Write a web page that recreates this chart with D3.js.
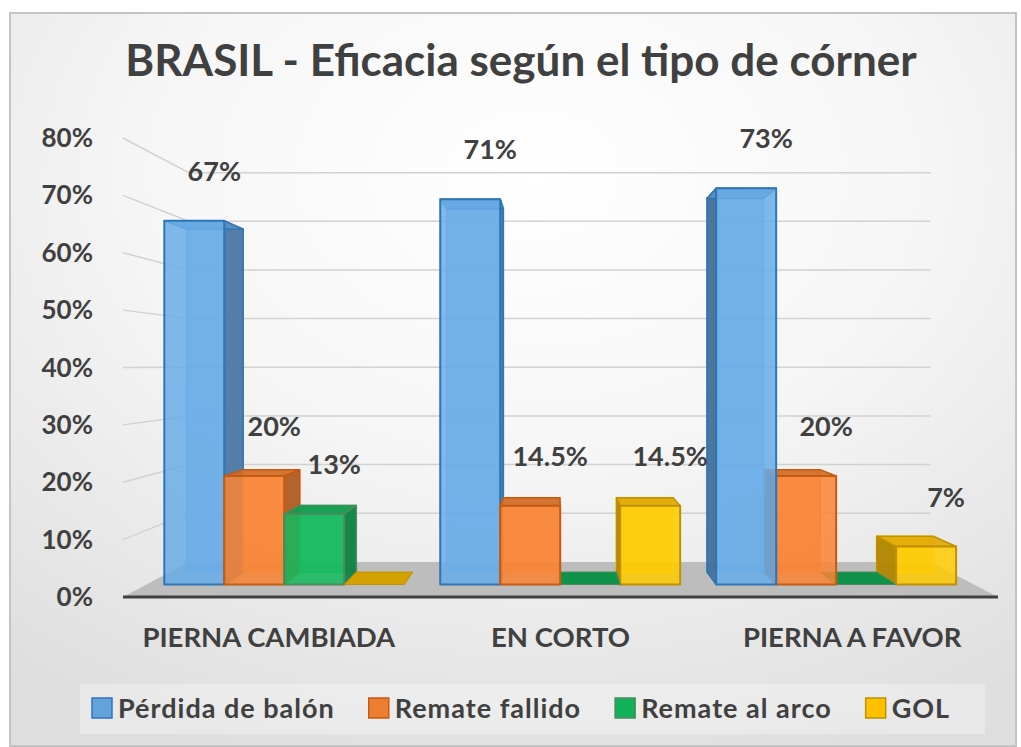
<!DOCTYPE html>
<html>
<head>
<meta charset="utf-8">
<script src="https://cdn.jsdelivr.net/npm/d3@7"></script>
<style>
  body { margin: 0; background: #fff; }
  svg { display: block; }
  text { font-family: Lato, "Open Sans", sans-serif; font-weight: 700; fill: #404040; }
</style>
</head>
<body>
<svg id="chart" width="1021" height="747"></svg>
<script>
// data
const categories = ["PIERNA CAMBIADA", "EN CORTO", "PIERNA A FAVOR"];
const seriesNames = ["Pérdida de balón", "Remate fallido", "Remate al arco", "GOL"];
const perdidaBalon = [0.67, 0.71, 0.73];
const remateFallido = [0.20, 0.145, 0.20];
const remateArco = [0.13, 0, 0];
const gol = [0, 0.145, 0.07];
const yTicks = [0, 0.1, 0.2, 0.3, 0.4, 0.5, 0.6, 0.7, 0.8];

const seriesValues = [perdidaBalon, remateFallido, remateArco, gol];
const colors = ["#64a2dc", "#ed7d31", "#12b058", "#ffc000"];
const edges = ["#2e75b6", "#c55a11", "#4a8a5c", "#bf9000"];

/* Set up */
/* ====== */
const svg = d3.select("#chart");
const fmt = (v) => `${+(v * 100).toFixed(1)}%`;

// simple perspective: x/y given on the front plane, z = depth 0..1
const VP = [555, 366];
const shrink = 0.152;
const k = (z) => 1 - shrink * z;
const proj = (x, y, z) => [VP[0] + (x - VP[0]) * k(z), VP[1] + (y - VP[1]) * k(z)];
const barZ = [0.355, 0.71];

const x0 = d3.scaleBand().domain(categories).range([123, 998]);
const x1 = d3.scaleBand().domain(seriesNames).range([0, x0.bandwidth()]).paddingOuter(0.3);
const y = d3.scaleLinear().domain([0, 0.8]).range([597, 138]);

// background
const defs = svg.append("defs");
const grad = defs.append("radialGradient").attr("id", "bg")
  .attr("cx", "52%").attr("cy", "22%").attr("r", "85%");
grad.append("stop").attr("offset", "0%").attr("stop-color", "#ffffff");
grad.append("stop").attr("offset", "45%").attr("stop-color", "#f6f6f6");
grad.append("stop").attr("offset", "100%").attr("stop-color", "#dedede");

svg.append("rect")
  .attr("x", 10).attr("y", 13).attr("width", 1006).attr("height", 733)
  .attr("fill", "url(#bg)").attr("stroke", "#c4c4c4").attr("stroke-width", 2);

// title
svg.append("text")
  .attr("x", 521).attr("y", 76)
  .attr("text-anchor", "middle")
  .attr("font-size", 44)
  .text("BRASIL - Eficacia según el tipo de córner");

/* Walls and floor */
/* =============== */
const line = d3.line();
const [xMin, xMax] = x0.range();

const grid = svg.append("g").attr("fill", "none").attr("stroke", "#d2d2d2").attr("stroke-width", 1.5);
yTicks.filter((t) => t > 0).forEach((t) => {
  grid.append("path").attr("d", line([proj(xMin, y(t), 0), proj(xMin, y(t), 1)]));
  grid.append("path").attr("d", line([proj(xMin, y(t), 1), proj(xMax, y(t), 1)]));
});

svg.append("path")
  .attr("d", line([proj(xMin, y(0), 0), proj(xMax, y(0), 0), proj(xMax, y(0), 1), proj(xMin, y(0), 1)]) + "Z")
  .attr("fill", "#bdbdbd");

svg.append("line")
  .attr("x1", xMin).attr("x2", xMax)
  .attr("y1", y(0)).attr("y2", y(0))
  .attr("stroke", "#404040").attr("stroke-width", 3);

// y axis labels
svg.append("g")
  .selectAll("text")
  .data(yTicks)
  .join("text")
  .attr("x", 93)
  .attr("y", (d) => y(d) + 9)
  .attr("text-anchor", "end")
  .attr("font-size", 26)
  .text((d) => d3.format(".0%")(d));

// category labels
svg.append("g")
  .selectAll("text")
  .data(categories)
  .join("text")
  .attr("x", (d) => x0(d) + x0.bandwidth() / 2)
  .attr("y", 647)
  .attr("text-anchor", "middle")
  .attr("font-size", 27.5)
  .text((d) => d);

/* Bars */
/* ==== */
const bars = [];
categories.forEach((c, ci) => {
  seriesNames.forEach((s, si) => {
    const xa = x0(c) + x1(s);
    const xb = xa + x1.bandwidth();
    bars.push({ ci, si, xa, xb, v: seriesValues[si][ci] });
  });
});
// far from the vanishing point first
bars.sort((a, b) => Math.abs((b.xa + b.xb) / 2 - VP[0]) - Math.abs((a.xa + a.xb) / 2 - VP[0]));

const poly = (pts) => line(pts) + "Z";
const barG = svg.append("g");

bars.forEach((b) => {
  const g = barG.append("g").attr("stroke-linejoin", "round");
  const col = d3.color(colors[b.si]);
  const edge = edges[b.si];
  const yb = y(0);
  const yt = y(b.v);
  const F = (x, yy) => proj(x, yy, barZ[0]);
  const B = (x, yy) => proj(x, yy, barZ[1]);

  if (b.v === 0) {
    g.append("path")
      .attr("d", poly([F(b.xa, yb), F(b.xb, yb), B(b.xb, yb), B(b.xa, yb)]))
      .attr("fill", col.darker(0.5)).attr("stroke", edge).attr("stroke-width", 1);
    return;
  }

  // back face, seen through the transparent front
  g.append("path")
    .attr("d", poly([B(b.xa, yt), B(b.xb, yt), B(b.xb, yb), B(b.xa, yb)]))
    .attr("fill", col).attr("fill-opacity", 0.55)
    .attr("stroke", col.brighter(0.4)).attr("stroke-width", 1.5);

  if (b.xb < VP[0]) {
    g.append("path")
      .attr("d", poly([F(b.xb, yt), B(b.xb, yt), B(b.xb, yb), F(b.xb, yb)]))
      .attr("fill", col.darker(0.9)).attr("fill-opacity", 0.9)
      .attr("stroke", edge).attr("stroke-width", 1.5);
  } else if (b.xa > VP[0]) {
    g.append("path")
      .attr("d", poly([F(b.xa, yt), B(b.xa, yt), B(b.xa, yb), F(b.xa, yb)]))
      .attr("fill", col.darker(1.1)).attr("fill-opacity", 0.9)
      .attr("stroke", edge).attr("stroke-width", 1.5);
  }

  g.append("path")
    .attr("d", poly([F(b.xa, yt), F(b.xb, yt), B(b.xb, yt), B(b.xa, yt)]))
    .attr("fill", col.darker(0.35)).attr("fill-opacity", 0.9)
    .attr("stroke", edge).attr("stroke-width", 1.5);

  g.append("path")
    .attr("d", poly([F(b.xa, yt), F(b.xb, yt), F(b.xb, yb), F(b.xa, yb)]))
    .attr("fill", col.brighter(0.15)).attr("fill-opacity", 0.85)
    .attr("stroke", edge).attr("stroke-width", 2);
});

// data labels
svg.append("g")
  .selectAll("text")
  .data(bars.filter((b) => b.v > 0))
  .join("text")
  .attr("x", (b) => proj((b.xa + b.xb) / 2, y(b.v), barZ[0])[0] + 20)
  .attr("y", (b) => proj((b.xa + b.xb) / 2, y(b.v), barZ[0])[1] - 40)
  .attr("text-anchor", "middle")
  .attr("font-size", 27)
  .text((b) => fmt(b.v));

/* Legend */
/* ====== */
svg.append("rect")
  .attr("x", 80).attr("y", 684).attr("width", 905).attr("height", 50)
  .attr("fill", "#ffffff").attr("fill-opacity", 0.3);

const legend = svg.append("g");
let lx = 92;
seriesNames.forEach((s, i) => {
  legend.append("rect")
    .attr("x", lx).attr("y", 698).attr("width", 20).attr("height", 20)
    .attr("fill", colors[i]).attr("stroke", edges[i]).attr("stroke-width", 1.5);
  const t = legend.append("text")
    .attr("x", lx + 26).attr("y", 718)
    .attr("font-size", 27)
    .attr("letter-spacing", 1)
    .text(s);
  lx += 26 + t.node().getComputedTextLength() + 34;
});
</script>
</body>
</html>
